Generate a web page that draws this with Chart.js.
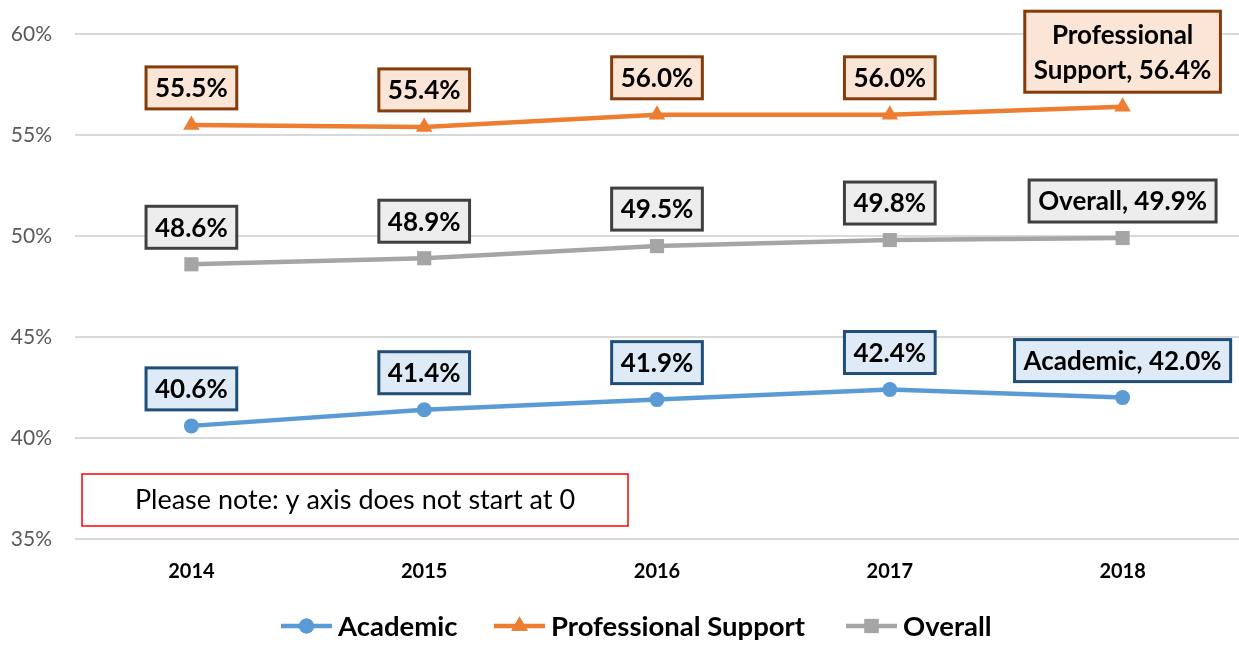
<!DOCTYPE html>
<html>
<head>
<meta charset="utf-8">
<script src="https://cdn.jsdelivr.net/npm/chart.js@4.4.1/dist/chart.umd.min.js"></script>
<style>
  html, body { margin: 0; padding: 0; background: #fff; overflow: hidden; }
  canvas { display: block; }
</style>
</head>
<body>
<canvas id="c" width="1239" height="653"></canvas>
<script>
const years = ['2014', '2015', '2016', '2017', '2018'];
const academic = [40.6, 41.4, 41.9, 42.4, 42.0];
const professional = [55.5, 55.4, 56.0, 56.0, 56.4];
const overall = [48.6, 48.9, 49.5, 49.8, 49.9];
const yTicks = [35, 40, 45, 50, 55, 60];
const noteText = 'Please note: y axis does not start at 0';

const FONT = 'Lato, "Open Sans", sans-serif';

// label boxes styles per series
const boxStyles = [
    { fill: '#DEEBF7', border: '#1F4E79' },
    { fill: '#FBE5D6', border: '#843C0C' },
    { fill: '#EDEDED', border: '#404040' }
];

function labelLines(name, v, i, last, split) {
    const txt = v.toFixed(1) + '%';
    if (i !== last) return [txt];
    if (split) return ['Professional', 'Support, ' + txt];
    return [name + ', ' + txt];
}

const boxLabels = {
    id: 'boxLabels',
    afterDatasetsDraw(chart) {
        const ctx = chart.ctx;
        ctx.save();
        ctx.font = 'bold 26px ' + FONT;
        ctx.textAlign = 'center';
        ctx.textBaseline = 'middle';
        chart.data.datasets.forEach((ds, di) => {
            const meta = chart.getDatasetMeta(di);
            const st = boxStyles[di];
            meta.data.forEach((pt, i) => {
                const lines = labelLines(ds.label, ds.data[i], i, ds.data.length - 1, di === 1);
                const lh = 35;
                const h = 42 + (lines.length - 1) * lh + (lines.length > 1 ? 4 : 0);
                const w = Math.max(...lines.map(l => ctx.measureText(l).width)) + 18;
                const cy = pt.y - (lines.length > 1 ? 55 : 37);
                const x0 = pt.x - w / 2, y0 = cy - h / 2;
                ctx.fillStyle = st.fill;
                ctx.fillRect(x0, y0, w, h);
                ctx.lineWidth = 3;
                ctx.strokeStyle = st.border;
                ctx.strokeRect(x0, y0, w, h);
                ctx.fillStyle = '#000';
                lines.forEach((l, k) => {
                    ctx.fillText(l, pt.x, cy - (lines.length - 1) * lh / 2 + k * lh + 1);
                });
            });
        });
        // note box
        ctx.lineWidth = 1.5;
        ctx.strokeStyle = '#FF0000';
        ctx.strokeRect(82, 474, 546, 52);
        ctx.font = '27px ' + FONT;
        ctx.fillStyle = '#000';
        ctx.fillText(noteText, 355, 500);

        // legend
        const items = [
            { ds: 0, x: 281 },
            { ds: 1, x: 494 },
            { ds: 2, x: 846 }
        ];
        const ly = 626;
        items.forEach(it => {
            const ds = chart.data.datasets[it.ds];
            ctx.strokeStyle = ds.borderColor;
            ctx.lineWidth = 4.5;
            ctx.beginPath();
            ctx.moveTo(it.x, ly);
            ctx.lineTo(it.x + 51, ly);
            ctx.stroke();
            ctx.fillStyle = ds.borderColor;
            ctx.beginPath();
            Chart.helpers.drawPoint(ctx, { pointStyle: ds.pointStyle, radius: ds.pointRadius, borderWidth: 0 }, it.x + 25.5, ly);
            ctx.fill();
            ctx.fillStyle = '#000';
            ctx.textAlign = 'left';
            ctx.font = 'bold 27.5px ' + FONT;
            ctx.fillText(ds.label, it.x + 57, ly + 1);
        });
        ctx.restore();
    }
};

new Chart(document.getElementById('c'), {
    type: 'line',
    data: {
        labels: years,
        datasets: [
            {
                label: 'Academic', data: academic,
                borderColor: '#5B9BD5', backgroundColor: '#5B9BD5',
                borderWidth: 4.5, pointStyle: 'circle', pointRadius: 7.5, pointBorderWidth: 0
            },
            {
                label: 'Professional Support', data: professional,
                borderColor: '#ED7D31', backgroundColor: '#ED7D31',
                borderWidth: 4.5, pointStyle: 'triangle', pointRadius: 9.5, pointBorderWidth: 0
            },
            {
                label: 'Overall', data: overall,
                borderColor: '#A5A5A5', backgroundColor: '#A5A5A5',
                borderWidth: 4.5, pointStyle: 'rect', pointRadius: 10, pointBorderWidth: 0
            }
        ]
    },
    options: {
        responsive: false,
        animation: false,
        layout: { autoPadding: false, padding: { top: 34, right: 0, left: 0, bottom: 0 } },
        plugins: {
            legend: { display: false },
            tooltip: { enabled: false }
        },
        scales: {
            x: {
                offset: true,
                grid: { display: false, drawTicks: false },
                border: { display: false },
                ticks: { color: '#000', font: { family: FONT, size: 20, weight: 'bold' }, padding: 21 },
                afterFit(s) {
                    s.height = 114;
                    s.getPadding = () => ({ left: 0, right: 0, top: 0, bottom: 0 });
                }
            },
            y: {
                min: 35, max: 60,
                afterBuildTicks(s) { s.ticks = yTicks.map(v => ({ value: v })); },
                grid: { color: '#D9D9D9', lineWidth: 2, drawTicks: false },
                border: { display: false },
                ticks: {
                    color: '#595959', font: { family: FONT, size: 21 }, padding: 23,
                    callback: v => v + '%'
                },
                afterFit(s) {
                    s.width = 75;
                    s.getPadding = () => ({ left: 0, right: 0, top: 0, bottom: 0 });
                }
            }
        }
    },
    plugins: [boxLabels]
});
</script>
</body>
</html>
